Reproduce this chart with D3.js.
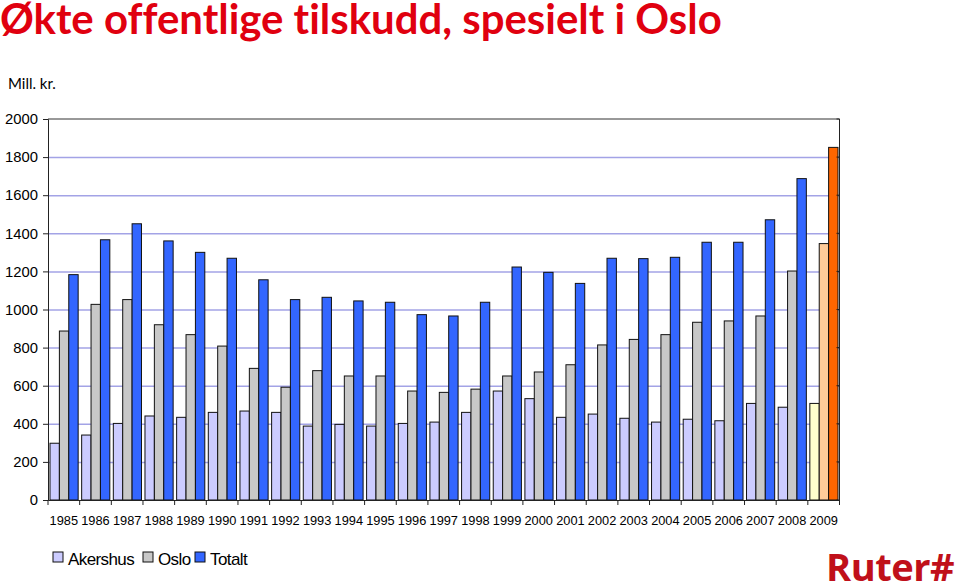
<!DOCTYPE html>
<html><head><meta charset="utf-8">
<script src="https://cdn.jsdelivr.net/npm/d3@7"></script>
<style>body{margin:0;background:#fff;}svg{display:block;}text{font-variant-ligatures:none;}</style>
</head><body>
<svg id="c" width="959" height="586"></svg>
<script>
const years = ["1985","1986","1987","1988","1989","1990","1991","1992","1993","1994","1995","1996","1997","1998","1999","2000","2001","2002","2003","2004","2005","2006","2007","2008","2009"];
const akershus = [298,341,402,441,434,460,467,460,388,397,388,402,409,460,572,532,434,451,429,409,424,416,507,487,507];
const oslo = [887,1027,1052,920,868,808,691,592,679,651,651,572,565,582,651,672,710,814,843,868,933,940,966,1202,1346];
const totalt = [1183,1366,1450,1360,1300,1269,1156,1052,1064,1045,1038,973,966,1038,1223,1195,1137,1269,1267,1274,1353,1353,1471,1687,1851];
const seriesNames = ["Akershus","Oslo","Totalt"];
const colors = ["#CCCCFF","#C8C8C8","#3366FF"];
const highlightColors = ["#FFFFCC","#FFCC99","#FF6600"];
const highlightYear = "2009";
const yTicks = [0,200,400,600,800,1000,1200,1400,1600,1800,2000];

const svg = d3.select("#c");
const L = 48, R = 839.5, T = 119, B = 500;
const x0 = d3.scaleBand().domain(years).range([L, R]);
const bw = x0.bandwidth();
const x1 = d3.scaleBand().domain(seriesNames).range([2, bw - 1.5]);
const y = d3.scaleLinear().domain([0, 2000]).range([B, T]);

// Title
const title = svg.append("text").attr("x", 0).attr("y", 34)
  .attr("font-family", "Lato, 'Open Sans', sans-serif").attr("font-weight", 700)
  .attr("font-size", 40).attr("fill", "#E0000F")
  .text("Økte offentlige tilskudd, spesielt i Oslo");
const tw = title.node().getComputedTextLength();
title.attr("font-size", 40 * 722 / tw);

svg.append("text").attr("x", 8).attr("y", 89)
  .attr("font-family", "Lato, 'Open Sans', sans-serif").attr("font-size", 15).attr("fill", "#000")
  .text("Mill. kr.");

// gridlines
svg.append("g").selectAll("line").data(yTicks.filter(d => d > 0 && d < 2000)).join("line")
  .attr("x1", L).attr("x2", R).attr("y1", d => y(d) + 0.5).attr("y2", d => y(d) + 0.5)
  .attr("stroke", "#A3A3E6").attr("stroke-width", 1.5);

// bars
const data = [akershus, oslo, totalt];
const g = svg.append("g");
years.forEach((yr, i) => {
  seriesNames.forEach((s, j) => {
    const v = data[j][i];
    g.append("rect")
      .attr("x", x0(yr) + x1(s)).attr("width", x1.bandwidth())
      .attr("y", y(v)).attr("height", B - y(v))
      .attr("fill", yr === highlightYear ? highlightColors[j] : colors[j])
      .attr("stroke", "#111").attr("stroke-width", 1);
  });
});

// axes
const yAxis = d3.axisLeft(y).tickValues(yTicks).tickFormat(d3.format("d")).tickSize(5).tickPadding(5);
const ya = svg.append("g").attr("transform", `translate(${L},0)`).call(yAxis);
ya.select(".domain").attr("stroke", "#222");
ya.selectAll("line").attr("stroke", "#222");
ya.selectAll("text").attr("font-family", "Arial, 'Liberation Sans', sans-serif").attr("font-size", 14.8).attr("fill", "#000");

const xa = svg.append("g").attr("transform", `translate(0,${B})`)
  .call(d3.axisBottom(x0).tickSize(0).tickPadding(16));
xa.select(".domain").attr("stroke", "#222");
xa.selectAll("text").attr("font-family", "Arial, 'Liberation Sans', sans-serif").attr("font-size", 12.8).attr("fill", "#000");
// category boundary ticks
svg.append("g").selectAll("line").data(years.concat(["end"])).join("line")
  .attr("x1", (d, i) => L + i * bw).attr("x2", (d, i) => L + i * bw)
  .attr("y1", B).attr("y2", B + 5).attr("stroke", "#222");

// top and right frame
svg.append("line").attr("x1", L).attr("x2", R).attr("y1", T).attr("y2", T).attr("stroke", "#333");
svg.append("line").attr("x1", R).attr("x2", R).attr("y1", T).attr("y2", B).attr("stroke", "#222");
svg.append("g").selectAll("line").data(yTicks).join("line")
  .attr("x1", R - 3).attr("x2", R).attr("y1", d => y(d)).attr("y2", d => y(d)).attr("stroke", "#222");

// legend
const leg = svg.append("g");
const legX = [53, 143, 195];
seriesNames.forEach((s, j) => {
  leg.append("rect").attr("x", legX[j]).attr("y", 552).attr("width", 10).attr("height", 10)
    .attr("fill", colors[j]).attr("stroke", "#111");
  leg.append("text").attr("x", legX[j] + 15).attr("y", 565)
    .attr("font-family", "Arial, 'Liberation Sans', sans-serif").attr("font-size", 17).attr("letter-spacing", -0.6)
    .text(s);
});

// logo
const logo = svg.append("text").attr("x", 826).attr("y", 581)
  .attr("font-family", "'Open Sans', Lato, sans-serif").attr("font-weight", 700)
  .attr("font-size", 36).attr("fill", "#C0101A").attr("letter-spacing", -0.5)
  .text("Ruter#");
const lw = logo.node().getComputedTextLength();
logo.attr("font-size", 36 * 128 / lw);
</script>
</body></html>
